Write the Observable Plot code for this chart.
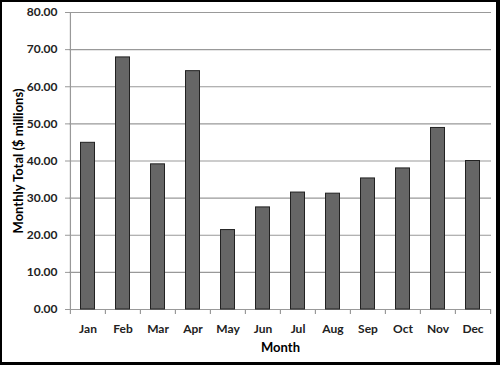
<!DOCTYPE html>
<html>
<head>
<meta charset="utf-8">
<script src="https://cdn.jsdelivr.net/npm/d3@7"></script>
<script src="https://cdn.jsdelivr.net/npm/@observablehq/plot@0.6"></script>
<style>
  html, body { margin: 0; padding: 0; background: #fff; }
  #wrap { position: relative; width: 500px; height: 365px; overflow: hidden; }
  #wrap svg { position: absolute; left: 0; top: 0; }
  #border { position: absolute; left: 0; top: 0; width: 500px; height: 365px; box-sizing: border-box;
            border: 2px solid #000; border-right-width: 4px; border-bottom-width: 3px; pointer-events: none; }
</style>
</head>
<body>
<div id="wrap"><div id="border"></div></div>
<script>
const months = ["Jan","Feb","Mar","Apr","May","Jun","Jul","Aug","Sep","Oct","Nov","Dec"];
const totals = [44.9, 67.9, 39.1, 64.2, 21.4, 27.5, 31.5, 31.2, 35.3, 38.0, 48.9, 40.0];
const yTicks = [0, 10, 20, 30, 40, 50, 60, 70, 80];
const xTitle = "Month";
const yTitle = "Monthly Total ($ millions)";

const data = months.map((m, i) => ({month: m, total: totals[i]}));

const W = 500, H = 365;
const mL = 69, mR = 9, mT = 12, mB = 56;
const bw = (W - mL - mR) / months.length;
const font = "Lato, 'Open Sans', sans-serif";

const chart = Plot.plot({
  width: W,
  height: H,
  marginLeft: mL,
  marginRight: mR,
  marginTop: mT,
  marginBottom: mB,
  style: {fontFamily: font, fontSize: "12px", fontWeight: "bold", color: "#222", background: "transparent"},
  x: {type: "band", domain: months, padding: 0, label: null},
  y: {domain: [0, 80], label: null},
  marks: [
    Plot.ruleY(yTicks, {stroke: "#999", strokeWidth: 1.2}),
    Plot.ruleX([months[0]], {dx: -bw / 2, stroke: "#999", strokeWidth: 1.2}),
    Plot.axisY(yTicks, {tickFormat: d => d.toFixed(2), tickSize: 4, tickPadding: 8, stroke: "#999", fill: "#222", fontWeight: "bold", fontSize: 12, label: null}),
    Plot.axisX({tickSize: 0, tickPadding: 15, fill: "#222", fontWeight: "bold", fontSize: 12, label: null}),
    Plot.ruleX(months, {x: d => d, dx: -bw / 2, y1: 0, y2: 0, insetBottom: -5, stroke: "#999", strokeWidth: 1.2}),
    Plot.ruleX([months[months.length - 1]], {x: d => d, dx: bw / 2, y1: 0, y2: 0, insetBottom: -5, stroke: "#999", strokeWidth: 1.2}),
    Plot.barY(data, {x: "month", y: "total", fill: "#666", stroke: "#222", strokeWidth: 1, insetLeft: 10.5, insetRight: 10.5}),
    Plot.text([yTitle], {frameAnchor: "left", textAnchor: "middle", rotate: -90, dx: -51, fontSize: 13, fontWeight: "bold", fill: "#000"}),
    Plot.text([xTitle], {frameAnchor: "bottom", dy: 42, fontSize: 13, fontWeight: "bold", fill: "#000"})
  ]
});
document.getElementById("wrap").insertBefore(chart, document.getElementById("border"));
</script>
</body>
</html>
